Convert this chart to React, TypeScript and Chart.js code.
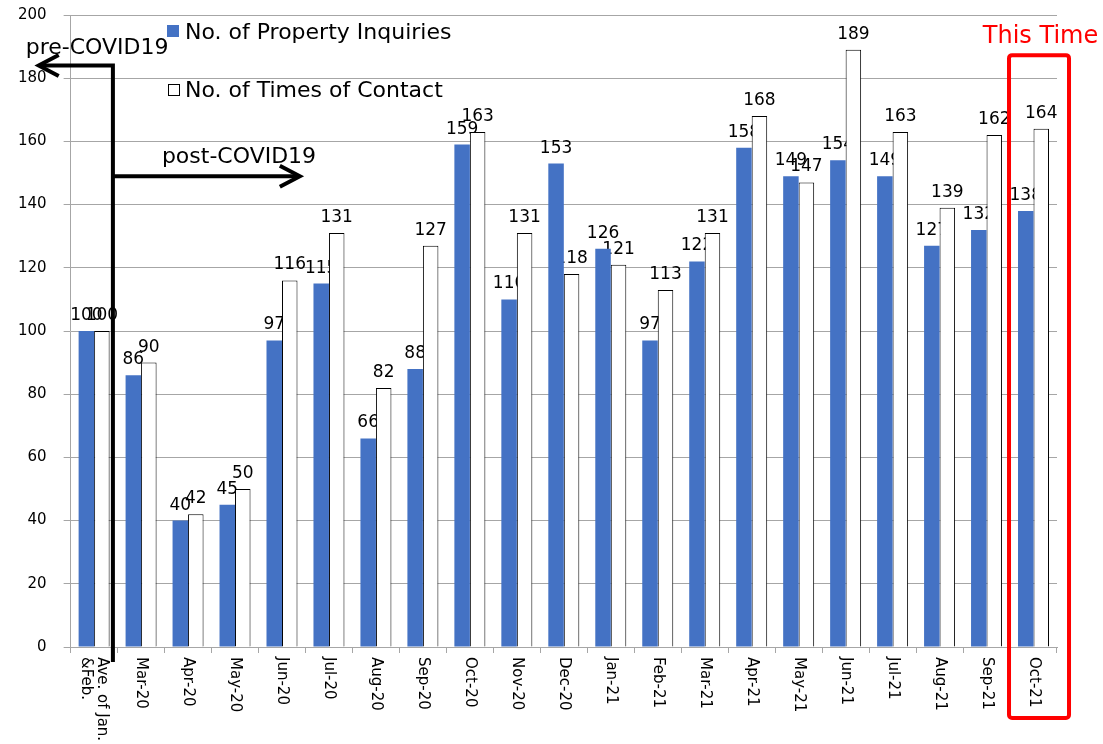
import React, { useEffect, useRef } from "react";
import { Chart, registerables } from "chart.js";

Chart.register(...registerables);

const categories = [
  "Ave. of Jan.\n&Feb.", "Mar-20", "Apr-20", "May-20", "Jun-20", "Jul-20", "Aug-20",
  "Sep-20", "Oct-20", "Nov-20", "Dec-20", "Jan-21", "Feb-21", "Mar-21", "Apr-21",
  "May-21", "Jun-21", "Jul-21", "Aug-21", "Sep-21", "Oct-21",
];
const inquiries = [100, 86, 40, 45, 97, 115, 66, 88, 159, 110, 153, 126, 97, 122, 158, 149, 154, 149, 127, 132, 138];
const contacts = [100, 90, 42, 50, 116, 131, 82, 127, 163, 131, 118, 121, 113, 131, 168, 147, 189, 163, 139, 162, 164];
const seriesNames = ["No. of Property Inquiries", "No. of Times of Contact"];
const yMin = 0;
const yMax = 200;
const yStep = 20;

// annotation anchors (in category index / value units)
const splitIndex = 0.4;
const preArrowValue = 184;
const postArrowValue = 149;
const preTipIndex = -1.18;
const postTipIndex = 4.38;
const thisTimeIndex = 20;
const thisTimeTopValue = 187.3;

const FONT = "'DejaVu Sans', Verdana, sans-serif";

function drawValueLabels(chart: any, dsIndex: number) {
  const ctx = chart.ctx;
  const meta = chart.getDatasetMeta(dsIndex);
  const data = chart.data.datasets[dsIndex].data;
  ctx.save();
  ctx.font = `17px ${FONT}`;
  ctx.fillStyle = "#000";
  ctx.textAlign = "center";
  ctx.textBaseline = "alphabetic";
  meta.data.forEach((bar: any, i: number) => {
    ctx.fillText(String(data[i]), bar.x, bar.y - 11);
  });
  ctx.restore();
}

const labelPlugin = {
  id: "valueLabels",
  beforeDatasetDraw(chart: any, args: any) {
    if (args.index === 1) drawValueLabels(chart, 0);
  },
  afterDatasetDraw(chart: any, args: any) {
    if (args.index === 1) drawValueLabels(chart, 1);
  },
};

function arrowHead(ctx: any, tipX: number, tipY: number, dir: number) {
  ctx.beginPath();
  ctx.moveTo(tipX - dir * 20, tipY - 10.5);
  ctx.lineTo(tipX, tipY);
  ctx.lineTo(tipX - dir * 20, tipY + 10.5);
  ctx.stroke();
}

const decorPlugin = {
  id: "decor",
  afterDraw(chart: any) {
    const ctx = chart.ctx;
    const xs = chart.scales.x;
    const ys = chart.scales.y;
    const area = chart.chartArea;

    // x labels rotated clockwise
    ctx.save();
    ctx.font = `15px ${FONT}`;
    ctx.fillStyle = "#000";
    categories.forEach((c, i) => {
      const lines = c.split("\n");
      const cx = xs.getPixelForValue(i);
      ctx.save();
      ctx.translate(cx, area.bottom + 10);
      ctx.rotate(Math.PI / 2);
      ctx.textAlign = "left";
      ctx.textBaseline = "middle";
      const lh = 16;
      lines.forEach((ln, k) => {
        ctx.fillText(ln, 0, (k - (lines.length - 1) / 2) * lh);
      });
      ctx.restore();
    });
    ctx.restore();

    // legend
    ctx.save();
    ctx.font = `22px ${FONT}`;
    ctx.textAlign = "left";
    ctx.textBaseline = "alphabetic";
    ctx.fillStyle = "#4472C4";
    ctx.fillRect(167, 25, 12, 12);
    ctx.fillStyle = "#000";
    ctx.fillText(seriesNames[0], 185, 39);
    ctx.fillStyle = "#fff";
    ctx.fillRect(168.5, 84.5, 11, 11);
    ctx.strokeStyle = "#000";
    ctx.lineWidth = 1;
    ctx.strokeRect(168.5, 84.5, 11, 11);
    ctx.fillStyle = "#000";
    ctx.fillText(seriesNames[1], 185, 97);
    ctx.restore();

    // arrows
    const sx = xs.getPixelForValue(splitIndex);
    const preY = ys.getPixelForValue(preArrowValue);
    const postY = ys.getPixelForValue(postArrowValue);
    const preTip = xs.getPixelForValue(preTipIndex);
    const postTip = xs.getPixelForValue(postTipIndex);
    ctx.save();
    ctx.strokeStyle = "#000";
    ctx.lineWidth = 4;
    ctx.lineCap = "butt";
    ctx.lineJoin = "miter";
    ctx.beginPath();
    ctx.moveTo(preTip + 2, preY);
    ctx.lineTo(sx, preY);
    ctx.lineTo(sx, area.bottom + 15);
    ctx.stroke();
    ctx.beginPath();
    ctx.moveTo(sx, postY);
    ctx.lineTo(postTip - 2, postY);
    ctx.stroke();
    arrowHead(ctx, preTip, preY, -1);
    arrowHead(ctx, postTip, postY, 1);
    ctx.font = `22px ${FONT}`;
    ctx.fillStyle = "#000";
    ctx.textAlign = "left";
    ctx.textBaseline = "alphabetic";
    ctx.fillText("pre-COVID19", preTip - 13, preY - 12);
    ctx.fillText("post-COVID19", sx + 49, postY - 13);
    ctx.restore();

    // This Time box
    const tx = xs.getPixelForValue(thisTimeIndex);
    const top = ys.getPixelForValue(thisTimeTopValue);
    ctx.save();
    ctx.strokeStyle = "#FF0000";
    ctx.lineWidth = 4;
    ctx.lineJoin = "round";
    ctx.beginPath();
    (ctx as any).roundRect(tx - 24.5, top, 60, area.bottom + 71 - top, 3);
    ctx.stroke();
    ctx.font = `24px ${FONT}`;
    ctx.fillStyle = "#FF0000";
    ctx.textAlign = "center";
    ctx.textBaseline = "alphabetic";
    ctx.fillText("This Time", tx + 7, top - 12);
    ctx.restore();
  },
};

export default function App() {
  const ref = useRef<HTMLCanvasElement>(null);
  useEffect(() => {
    if (!ref.current) return;
    const chart = new Chart(ref.current, {
      type: "bar",
      data: {
        labels: categories,
        datasets: [
          {
            label: seriesNames[0],
            data: inquiries,
            backgroundColor: "#4472C4",
            borderWidth: 0,
            categoryPercentage: 0.66,
            barPercentage: 1,
          },
          {
            label: seriesNames[1],
            data: contacts,
            backgroundColor: "#FFFFFF",
            borderColor: "#000000",
            borderWidth: 1,
            categoryPercentage: 0.66,
            barPercentage: 1,
          },
        ],
      },
      options: {
        responsive: false,
        animation: false,
        layout: { padding: { left: 1, right: 46, top: 15, bottom: 91 } },
        plugins: { legend: { display: false }, tooltip: { enabled: false } },
        scales: {
          x: {
            grid: {
              display: true,
              drawOnChartArea: false,
              drawTicks: true,
              tickLength: 6,
              color: "#a6a6a6",
              offset: true,
            },
            border: { color: "#a6a6a6" },
            ticks: { display: false },
          },
          y: {
            min: yMin,
            max: yMax,
            afterFit: (scale: any) => {
              scale.paddingTop = 9;
              scale.paddingBottom = 9;
            },
            ticks: {
              stepSize: yStep,
              font: { family: FONT, size: 15 },
              color: "#000",
              padding: 17,
            },
            grid: { color: "#a6a6a6", tickLength: 7 },
            border: { color: "#a6a6a6" },
          },
        },
      },
      plugins: [labelPlugin, decorPlugin],
    });
    return () => chart.destroy();
  }, []);
  return (
    <div style={{ position: "fixed", left: 0, top: 0, width: 1103, height: 744, background: "#fff" }}>
      <canvas ref={ref} width={1103} height={744} style={{ width: 1103, height: 744, display: "block" }} />
    </div>
  );
}
